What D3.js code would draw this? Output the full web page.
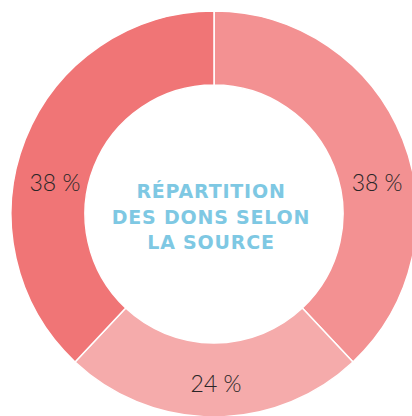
<!DOCTYPE html>
<html>
<head>
<meta charset="utf-8">
<script src="https://cdn.jsdelivr.net/npm/d3@7"></script>
<style>
    body { margin: 0; background: #fff; }
    svg { display: block; }
</style>
</head>
<body>
<svg id="chart"></svg>
<script>
const width = 412;
const height = 416;

// data, clockwise from 12 o'clock
const sources = ["Source A", "Source B", "Source C"];
const shares = [38, 24, 38];
const sliceColors = ["#f39192", "#f5abab", "#f07576"];
const titleLines = ["RÉPARTITION", "DES DONS SELON", "LA SOURCE"];

const cx = 214, cy = 214;
const outerR = 203, innerR = 129;

let svg = d3.select("#chart")
    .attr("width", width)
    .attr("height", height)
    .attr("viewBox", [0, 0, width, height]);

let g = svg.append("g")
    .attr("transform", "translate(" + cx + "," + cy + ")");

let pie = d3.pie()
    .sort(null)
    .value(d => d.value);

let arc = d3.arc()
    .innerRadius(innerR)
    .outerRadius(outerR);

let data = sources.map((s, i) => ({name: s, value: shares[i], color: sliceColors[i]}));
let arcs = pie(data);

g.selectAll("path")
    .data(arcs)
    .join("path")
    .attr("d", arc)
    .attr("fill", d => d.data.color)
    .attr("stroke", "#fff")
    .attr("stroke-width", 1.5);

// labels sit halfway between the slice middle and the nearest horizontal/vertical axis
function labelPos(d) {
    let mid = (d.startAngle + d.endAngle) / 2;
    let axis = Math.round(mid / (Math.PI / 2)) * (Math.PI / 2);
    let a = axis + (mid - axis) * 0.5;
    let r = 164 + 6 * Math.max(0, -Math.cos(a));
    return [r * Math.sin(a), -r * Math.cos(a)];
}

g.selectAll("text.pct")
    .data(arcs)
    .join("text")
    .classed("pct", true)
    .attr("x", d => labelPos(d)[0] + 2)
    .attr("y", d => labelPos(d)[1] + 8)
    .attr("text-anchor", "middle")
    .attr("font-family", "Lato, sans-serif")
    .attr("font-weight", 300)
    .attr("font-size", 23)
    .attr("fill", "#2a2627")
    .text(d => d.data.value + " %");

g.selectAll("text.title")
    .data(titleLines)
    .join("text")
    .classed("title", true)
    .attr("x", -3)
    .attr("y", (d, i) => -16 + i * 25.5)
    .attr("text-anchor", "middle")
    .attr("font-family", "'DejaVu Sans', sans-serif")
    .attr("font-weight", 700)
    .attr("font-size", 19)
    .attr("letter-spacing", 0.8)
    .attr("fill", "#7ec8e3")
    .text(d => d);
</script>
</body>
</html>
